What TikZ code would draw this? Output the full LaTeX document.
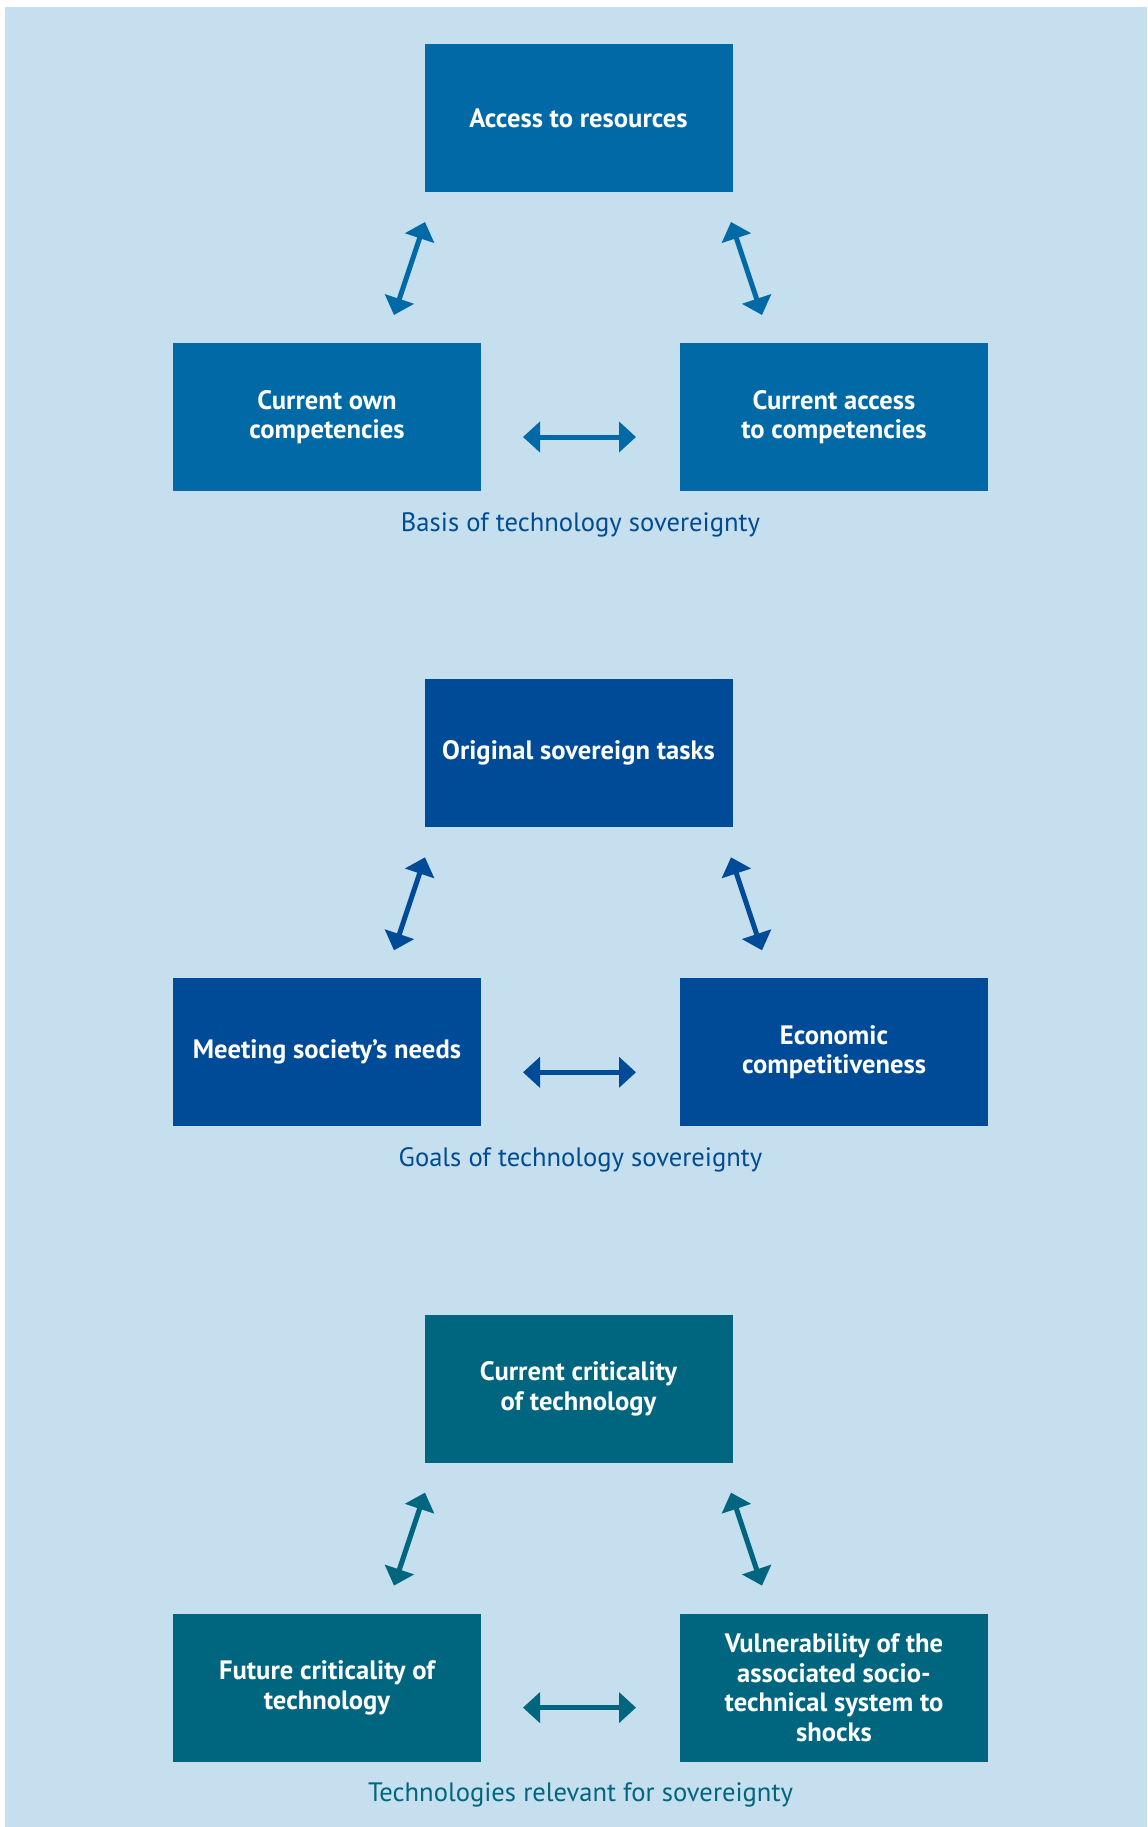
\documentclass[tikz,border=0pt]{standalone}
\usepackage{fontspec}
\setmainfont{PT Sans}
\usetikzlibrary{arrows.meta}
\definecolor{bgc}{RGB}{198,223,238}
\definecolor{ca}{RGB}{0,105,166}
\definecolor{cb}{RGB}{0,75,151}
\definecolor{cc}{RGB}{0,101,126}
\definecolor{la}{RGB}{0,75,145}
\tikzset{
  box/.style={fill=#1, text=white, minimum width=154pt, minimum height=74pt,
    inner sep=0pt, align=center, font=\fontsize{13.3pt}{14.8pt}\selectfont\bfseries},
  lab/.style={text=#1, font=\fontsize{13.3pt}{15pt}\selectfont, inner sep=0pt},
  dbl/.style={draw=#1, line width=2.5pt,
    {Triangle[width=15pt,length=8.5pt]}-{Triangle[width=15pt,length=8.5pt]}}
}
\begin{document}
\begin{tikzpicture}[x=0.5pt,y=-0.5pt]
\useasboundingbox (0,0) rectangle (1147,1827);
\fill[white] (0,0) rectangle (1147,1827);
\fill[bgc] (5,7) rectangle (1147,1827);
% Section 1
\node[box=ca] (a1) at (578.5,118) {Access to resources};
\node[box=ca] (a2) at (327,417) {Current own\\competencies};
\node[box=ca] (a3) at (834,417) {Current access\\to competencies};
\node[lab=la] (al) at (580.5,524.5) {Basis of technology sovereignty};
\coordinate (a12s) at (425,222); \coordinate (a12e) at (394,315);
\coordinate (a13s) at (731,222); \coordinate (a13e) at (762,315);
\coordinate (a23s) at (523,437); \coordinate (a23e) at (636,437);
\draw[dbl=ca] (a12s) -- (a12e);
\draw[dbl=ca] (a13s) -- (a13e);
\draw[dbl=ca] (a23s) -- (a23e);
% Section 2
\node[box=cb] (b1) at (578.5,753.3) {Original sovereign tasks};
\node[box=cb] (b2) at (327,1052.3) {Meeting society’s needs};
\node[box=cb] (b3) at (834,1052.3) {Economic\\competitiveness};
\node[lab=la] (bl) at (580.5,1159.8) {Goals of technology sovereignty};
\coordinate (b12s) at (425,857.3); \coordinate (b12e) at (394,950.3);
\coordinate (b13s) at (731,857.3); \coordinate (b13e) at (762,950.3);
\coordinate (b23s) at (523,1072.3); \coordinate (b23e) at (636,1072.3);
\draw[dbl=cb] (b12s) -- (b12e);
\draw[dbl=cb] (b13s) -- (b13e);
\draw[dbl=cb] (b23s) -- (b23e);
% Section 3
\node[box=cc] (c1) at (578.5,1388.6) {Current criticality\\of technology};
\node[box=cc] (c2) at (327,1687.6) {Future criticality of\\technology};
\node[box=cc] (c3) at (834,1687.6) {Vulnerability of the\\associated socio-\\technical system to\\shocks};
\node[lab=cc] (cl) at (580.5,1795.1) {Technologies relevant for sovereignty};
\coordinate (c12s) at (425,1492.6); \coordinate (c12e) at (394,1585.6);
\coordinate (c13s) at (731,1492.6); \coordinate (c13e) at (762,1585.6);
\coordinate (c23s) at (523,1707.6); \coordinate (c23e) at (636,1707.6);
\draw[dbl=cc] (c12s) -- (c12e);
\draw[dbl=cc] (c13s) -- (c13e);
\draw[dbl=cc] (c23s) -- (c23e);
\end{tikzpicture}
\end{document}
